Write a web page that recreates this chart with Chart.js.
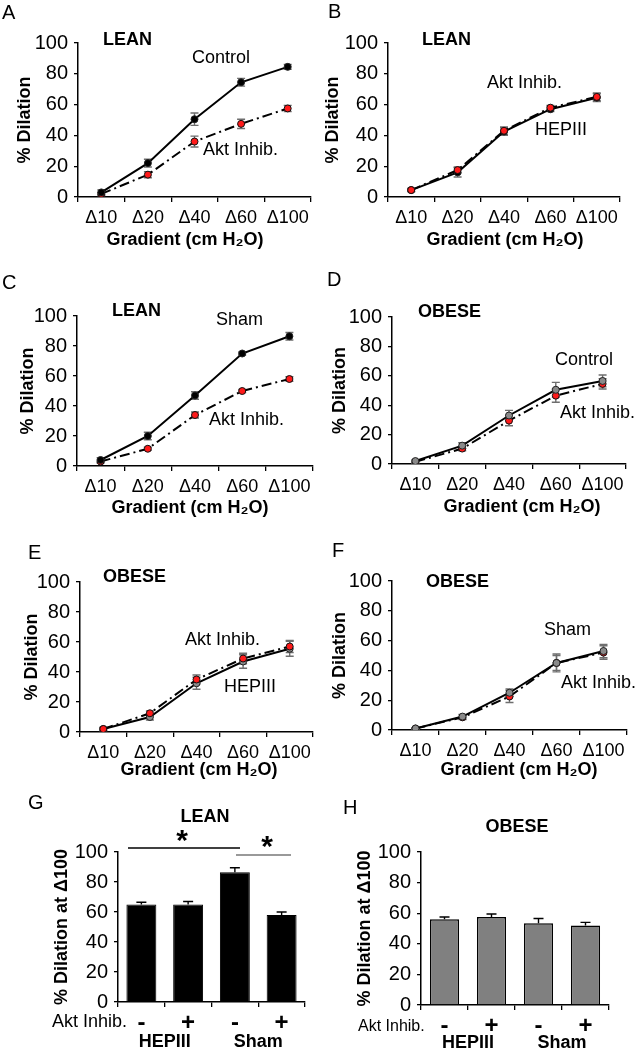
<!DOCTYPE html>
<html>
<head>
<meta charset="utf-8">
<script src="https://cdn.jsdelivr.net/npm/chart.js@4.4.0/dist/chart.umd.min.js"></script>
<style>
  body { margin: 0; background: #fff; width: 635px; height: 1050px; position: relative; overflow: hidden; }
  canvas { position: absolute; }
</style>
</head>
<body>
<script>
const FONT = '"Liberation Sans", Arial, sans-serif';

// categories
const gradient = ['Δ10', 'Δ20', 'Δ40', 'Δ60', 'Δ100'];
const aktSign = ['-', '+', '-', '+'];
const groups = ['HEPIII', 'Sham'];

// A - lean, control vs Akt inhibitor
const aControl = [3, 22, 50.5, 74.5, 84.5];
const aControlErr = [1.5, 2.5, 4, 2.5, 1.5];
const aAkt = [2, 14.5, 36, 47.5, 57.5];
const aAktErr = [1, 2, 3.5, 3, 2];

// B - lean, HEPIII vs Akt inhibitor
const bHep = [4.5, 16, 42.5, 57, 64.5];
const bHepErr = [1, 3, 2.5, 1.5, 2.5];
const bAkt = [4.5, 17.5, 43, 58, 65];
const bAktErr = [1, 2, 2.5, 1.5, 2.5];

// C - lean, sham vs Akt inhibitor
const cSham = [4, 20, 47, 75, 86.5];
const cShamErr = [1.5, 2.5, 2.5, 1, 2.5];
const cAkt = [3, 11.5, 34, 50, 58];
const cAktErr = [1, 1, 2, 1, 1.5];

// D - obese, control vs Akt inhibitor
const dControl = [2, 12.5, 33, 50.5, 56.5];
const dControlErr = [1, 2, 3.5, 5, 4];
const dAkt = [1.5, 10.5, 29.5, 46.5, 54.5];
const dAktErr = [1, 1.5, 3.5, 4.5, 3.5];

// E - obese, HEPIII vs Akt inhibitor
const eHep = [2, 10, 32.5, 47, 55.5];
const eHepErr = [1, 2, 4, 4.5, 5];
const eAkt = [2, 12.5, 35, 49, 57];
const eAktErr = [1, 1.5, 3, 3.5, 4];

// F - obese, sham vs Akt inhibitor
const fSham = [1, 9, 25, 45, 53];
const fShamErr = [0.5, 1.5, 2.5, 6, 4.5];
const fAkt = [1, 8.5, 22.5, 45, 52];
const fAktErr = [0.5, 1.5, 4, 5, 4.5];

// G, H - dilation at Δ100
const gLean = [65, 65, 86.5, 58];
const gLeanErr = [1.5, 2, 3, 2];
const hObese = [56, 57.5, 53.5, 52];
const hObeseErr = [1.5, 2, 3, 2];

const yTicks = [0, 20, 40, 60, 80, 100];

const fonts = {
  letter: '20px ' + FONT,
  bold: 'bold 18px ' + FONT,
  plain: '18px ' + FONT,
  small: '16px ' + FONT,
  star: 'bold 30px ' + FONT
};

function solid(data, err, pointColor) {
  return {
    data, err,
    borderColor: '#000', borderWidth: 2,
    pointRadius: 3.5, pointBackgroundColor: pointColor, pointBorderColor: '#222', pointBorderWidth: 1
  };
}
function dashed(data, err) {
  return {
    data, err,
    borderColor: '#000', borderWidth: 2, borderDash: [10, 4, 2, 4],
    pointRadius: 3.5, pointBackgroundColor: '#ff1a1a', pointBorderColor: '#111', pointBorderWidth: 1
  };
}

function panel(p) {
  const [ox, oy, w, h] = p.box;
  const cv = document.createElement('canvas');
  cv.width = w; cv.height = h;
  cv.style.left = ox + 'px'; cv.style.top = oy + 'px';
  document.body.appendChild(cv);
  const isBar = p.type === 'bar';

  const overlay = {
    id: 'overlay',
    beforeDatasetsDraw(chart) {
      if (!isBar) drawErr(chart);
    },
    afterDatasetsDraw(chart) {
      if (isBar) drawErr(chart);
    },
    afterDraw(chart) {
      const ctx = chart.ctx;
      ctx.save();
      ctx.fillStyle = '#000';
      ctx.textBaseline = 'middle';
      (p.texts || []).forEach(t => {
        ctx.font = fonts[t[3]];
        ctx.textAlign = t[4] || 'left';
        ctx.fillText(t[0], t[1] - ox, t[2] - oy);
      });
      if (p.xTitle) {
        ctx.font = fonts.bold;
        ctx.textAlign = 'center';
        ctx.fillText('Gradient (cm H₂O)', p.xTitle[0] - ox, p.xTitle[1] - oy);
      }
      if (p.groupY) {
        const xs = chart.scales.x;
        ctx.font = 'bold 18px ' + FONT;
        ctx.textAlign = 'center';
        groups.forEach((g, i) => {
          const cx = (xs.getPixelForValue(i * 2) + xs.getPixelForValue(i * 2 + 1)) / 2;
          ctx.fillText(g, cx, p.groupY - oy);
        });
      }
      (p.lines || []).forEach(l => {
        ctx.strokeStyle = l[3];
        ctx.lineWidth = 1.5;
        ctx.beginPath();
        ctx.moveTo(l[0] - ox, l[2] - oy);
        ctx.lineTo(l[1] - ox, l[2] - oy);
        ctx.stroke();
      });
      ctx.restore();
    }
  };

  function drawErr(chart) {
    const ctx = chart.ctx;
    const ys = chart.scales.y;
    ctx.save();
    chart.data.datasets.forEach((ds, di) => {
      const meta = chart.getDatasetMeta(di);
      ctx.strokeStyle = isBar ? '#000' : '#6e6e6e';
      ctx.lineWidth = 1.4;
      meta.data.forEach((el, i) => {
        const v = ds.data[i], e = ds.err[i];
        const top = ys.getPixelForValue(v + e);
        const bot = isBar ? ys.getPixelForValue(v) : ys.getPixelForValue(v - e);
        const cap = isBar ? 5 : 4;
        ctx.beginPath();
        ctx.moveTo(el.x, top); ctx.lineTo(el.x, bot);
        ctx.moveTo(el.x - cap, top); ctx.lineTo(el.x + cap, top);
        if (!isBar) { ctx.moveTo(el.x - cap, bot); ctx.lineTo(el.x + cap, bot); }
        ctx.stroke();
      });
    });
    ctx.restore();
  }

  new Chart(cv, {
    type: p.type,
    data: { labels: p.labels, datasets: p.datasets },
    options: {
      responsive: false,
      animation: false,
      devicePixelRatio: 1,
      layout: { padding: { left: 0, top: p.plot.top - oy, right: ox + w - p.plot.right, bottom: 0 } },
      plugins: { legend: { display: false }, tooltip: { enabled: false } },
      scales: {
        x: {
          offset: true,
          grid: { offset: true, drawOnChartArea: false, color: '#000', tickLength: 5, lineWidth: 1.3 },
          border: { color: '#000', width: 1.5 },
          ticks: {
            color: '#000', padding: isBar ? 2 : 5, maxRotation: 0, autoSkip: false,
            font: isBar ? { family: FONT, size: 24, weight: 'bold' } : { family: FONT, size: 18 }
          },
          afterFit(s) { s.height = oy + h - p.plot.bottom; }
        },
        y: {
          min: 0, max: 100,
          afterBuildTicks(s) { s.ticks = yTicks.map(v => ({ value: v })); },
          ticks: { color: '#000', padding: 6, font: { family: FONT, size: 20 } },
          grid: { drawOnChartArea: false, color: '#000', tickLength: 4, lineWidth: 1.3 },
          border: { color: '#000', width: 1.5 },
          title: {
            display: true, text: p.yTitle, color: '#000',
            font: { family: FONT, size: 18, weight: 'bold' },
            padding: { top: p.yPad, bottom: 0 }
          },
          afterFit(s) { s.width = p.plot.left - ox; }
        }
      }
    },
    plugins: [overlay]
  });
}

// A
panel({
  type: 'line', box: [0, 0, 318, 252], plot: { left: 78, right: 311, top: 43, bottom: 197 },
  labels: gradient, yTitle: '% Dilation', yPad: 14, xTitle: [185, 240],
  datasets: [solid(aControl, aControlErr, '#000'), dashed(aAkt, aAktErr)],
  texts: [['A', 2, 13, 'letter'], ['LEAN', 103, 40, 'bold'], ['Control', 192, 58, 'plain'], ['Akt Inhib.', 203, 150, 'plain']]
});
// B
panel({
  type: 'line', box: [318, 0, 317, 252], plot: { left: 388, right: 620, top: 43, bottom: 197 },
  labels: gradient, yTitle: '% Dilation', yPad: 4, xTitle: [505, 240],
  datasets: [dashed(bAkt, bAktErr), solid(bHep, bHepErr, '#000')],
  texts: [['B', 328, 12, 'letter'], ['LEAN', 422, 40, 'bold'], ['Akt Inhib.', 487, 83, 'plain'], ['HEPIII', 535, 130, 'plain']]
});
// C
panel({
  type: 'line', box: [0, 262, 318, 258], plot: { left: 77, right: 313, top: 316, bottom: 466 },
  labels: gradient, yTitle: '% Dilation', yPad: 17, xTitle: [190, 508],
  datasets: [solid(cSham, cShamErr, '#000'), dashed(cAkt, cAktErr)],
  texts: [['C', 2, 283, 'letter'], ['LEAN', 112, 311, 'bold'], ['Sham', 216, 320, 'plain'], ['Akt Inhib.', 209, 420, 'plain']]
});
// D
panel({
  type: 'line', box: [318, 262, 317, 258], plot: { left: 392, right: 626, top: 317, bottom: 464 },
  labels: gradient, yTitle: '% Dilation', yPad: 11, xTitle: [522, 507],
  datasets: [solid(dControl, dControlErr, '#8a8a8a'), dashed(dAkt, dAktErr)],
  texts: [['D', 327, 280, 'letter'], ['OBESE', 418, 312, 'bold'], ['Control', 555, 360, 'plain'], ['Akt Inhib.', 560, 413, 'plain']]
});
// E
panel({
  type: 'line', box: [0, 535, 318, 250], plot: { left: 80, right: 316, top: 582, bottom: 732 },
  labels: gradient, yTitle: '% Dilation', yPad: 21, xTitle: [199, 770],
  datasets: [dashed(eAkt, eAktErr), solid(eHep, eHepErr, '#8a8a8a')],
  texts: [['E', 28, 553, 'letter'], ['OBESE', 103, 577, 'bold'], ['Akt Inhib.', 185, 640, 'plain'], ['HEPIII', 224, 687, 'plain']]
});
// F
panel({
  type: 'line', box: [318, 535, 317, 250], plot: { left: 392, right: 627, top: 581, bottom: 730 },
  labels: gradient, yTitle: '% Dilation', yPad: 11, xTitle: [519, 770],
  datasets: [solid(fSham, fShamErr, '#8a8a8a'), dashed(fAkt, fAktErr)],
  texts: [['F', 332, 551, 'letter'], ['OBESE', 426, 582, 'bold'], ['Sham', 544, 630, 'plain'], ['Akt Inhib.', 561, 683, 'plain']]
});
// G
panel({
  type: 'bar', box: [0, 790, 318, 260], plot: { left: 118, right: 305, top: 852, bottom: 1002 },
  labels: aktSign, yTitle: '% Dilation at Δ100', yPad: 51, groupY: 1042,
  datasets: [{ data: gLean, err: gLeanErr, backgroundColor: '#000', borderColor: '#000', borderWidth: 1, barPercentage: 0.64, categoryPercentage: 1 }],
  texts: [['G', 28, 803, 'letter'], ['LEAN', 205, 817, 'bold', 'center'], ['Akt Inhib.', 52, 1022, 'plain'],
          ['*', 182, 842, 'star', 'center'], ['*', 267, 848, 'star', 'center']],
  lines: [[128, 240, 848, '#000'], [236, 291, 855, '#777']]
});
// H
panel({
  type: 'bar', box: [318, 790, 317, 260], plot: { left: 421, right: 609, top: 852, bottom: 1005 },
  labels: aktSign, yTitle: '% Dilation at Δ100', yPad: 36, groupY: 1043,
  datasets: [{ data: hObese, err: hObeseErr, backgroundColor: '#808080', borderColor: '#000', borderWidth: 1.5, barPercentage: 0.62, categoryPercentage: 1 }],
  texts: [['H', 343, 808, 'letter'], ['OBESE', 517, 827, 'bold', 'center'], ['Akt Inhib.', 358, 1027, 'small']]
});
</script>
</body>
</html>
